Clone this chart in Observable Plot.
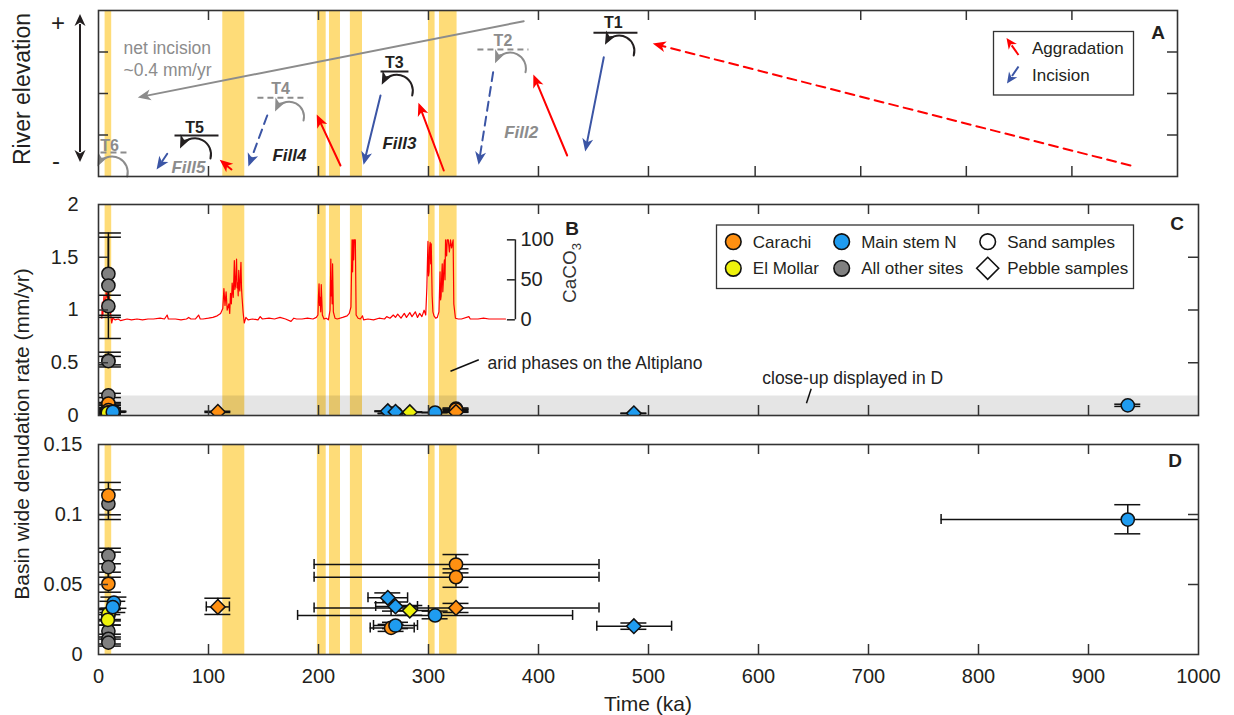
<!DOCTYPE html>
<html><head><meta charset="utf-8">
<script src="https://cdn.jsdelivr.net/npm/d3@7"></script>
<script src="https://cdn.jsdelivr.net/npm/@observablehq/plot@0.6"></script>
<style>
body{margin:0;background:#fff;}
#chart{position:relative;width:1234px;height:715px;overflow:hidden;}
</style></head><body><div id="chart"></div>
<script>
// ---------------- DATA ----------------
// arid phases on the Altiplano (ka)
const aridPhases = [[6,12],[113,133],[199,207],[210,220],[229,240],[300,306],[310,326]];

// Panel A schematic (x in ka, y in relative river-elevation units 0-4)
const terraces = [
  {label:"T6", tx:10,    ty:0.75,  x1:1.8,   x2:26.4,  y:0.578, tone:"grey"},
  {label:"T5", tx:87.3,  ty:1.16,  x1:69.1,  x2:109.1, y:0.988, tone:"black"},
  {label:"T4", tx:165.5, ty:2.12,  x1:144.5, x2:190,   y:1.896, tone:"grey"},
  {label:"T3", tx:269,   ty:2.735, x1:256.4, x2:281.8, y:2.53,  tone:"black"},
  {label:"T2", tx:367.7, ty:3.277, x1:344.5, x2:390.9, y:3.06,  tone:"grey"},
  {label:"T1", tx:468,   ty:3.71,  x1:450,   x2:490,   y:3.463, tone:"black"}
];
const abandonment = [
  {x1:26.1,  y1:0.0,   x2:-0.6,  y2:0.265, tone:"grey"},
  {x1:101.8, y1:0.434, x2:74.5,  y2:0.699, tone:"black"},
  {x1:186.4, y1:1.349, x2:160.9, y2:1.59,  tone:"grey"},
  {x1:285.2, y1:1.952, x2:257.9, y2:2.234, tone:"black"},
  {x1:388.2, y1:2.513, x2:360.9, y2:2.754, tone:"grey"},
  {x1:486.6, y1:2.916, x2:460.9, y2:3.198, tone:"black"}
];
const incision = [
  {x1:62.5,  y1:0.547, x2:53.3,  y2:0.186, dashed:true},
  {x1:153.4, y1:1.47,  x2:136.6, y2:0.265, dashed:true},
  {x1:256.4, y1:1.952, x2:241.2, y2:0.306, dashed:false},
  {x1:358.8, y1:2.513, x2:345.7, y2:0.306, dashed:true},
  {x1:459.4, y1:2.875, x2:442.7, y2:0.627, dashed:false}
];
const aggradation = [
  {x1:120.9, y1:0.169, x2:110.9, y2:0.386, dashed:false},
  {x1:220,   y1:0.265, x2:198.8, y2:1.47,  dashed:false},
  {x1:313.9, y1:0.145, x2:291.2, y2:1.752, dashed:false},
  {x1:426.1, y1:0.506, x2:395.7, y2:2.434, dashed:false},
  {x1:938.2, y1:0.265, x2:504.8, y2:3.198, dashed:true}
];
const fills = [
  {label:"Fill5", x:81.8,  y:0.217, tone:"grey"},
  {label:"Fill4", x:173.6, y:0.506, tone:"black"},
  {label:"Fill3", x:273.6, y:0.795, tone:"black"},
  {label:"Fill2", x:384.3, y:1.067, tone:"grey"}
];
const netIncision = [{x1:386.6, y1:3.742, x2:36.6, y2:1.91, dashed:false}];
const netIncisionText = [{text:"net incision", x:22.7, y:3.084}, {text:"~0.4 mm/yr", x:22.7, y:2.554}];

// CaCO3 record [age ka, CaCO3 %]
const caco3 = [[3,2],[3.5,22],[4,6],[5,30],[6,12],[7,34],[8,28],[9,36],[10,24],[11,8],[12,-4],[13,2],[15,0],[18,1],[20,-1],[26,1],[30,0],[35,1],[40,0],[45,1],[50,1],[56,2],[60,1],[62.4,6],[63.5,1],[70,1],[75,0],[80,1],[82,3],[84,1],[88,1],[91,6],[92.5,1],[95,1],[100,2],[104,3],[107.9,5],[111,8],[113,14],[114,39],[115,18],[116,35],[117,12],[118.5,20],[119.3,8],[120,33],[120.8,20],[121.5,46],[122.5,28],[123,50],[123.5,74],[124,38],[124.5,42],[125,58],[125.5,76],[126,40],[126.5,46],[127,30],[127.5,62],[128,40],[128.5,36],[129,55],[129.5,72],[130,40],[130.5,28],[131.5,9],[132.5,-4],[134,3],[136,0],[140,1],[145,0],[147,4],[149,1],[155,2],[160,1],[165,3],[170,1],[175,-2],[177.6,2],[180,1],[185,1],[190,2],[195,1],[198,3],[199.5,6],[200,30],[200.5,45],[201,18],[201.5,28],[202,10],[202.5,44],[203.5,6],[205,1],[207,2],[209,0],[210.5,12],[211.2,76],[211.6,30],[212,48],[212.4,20],[212.8,70],[213.5,10],[215,2],[217,1],[222,3],[226,5],[228,8],[229.5,16],[230.5,100],[231,60],[231.5,100],[232,75],[232.5,100],[233.5,100],[234.2,6],[236,2],[238,1],[240,5],[241,0],[245,1],[250,0],[255,2],[260,1],[262,4],[265,2],[268,6],[270,3],[272,7],[275,2],[278,8],[280,3],[283,9],[285,4],[288,10],[290,3],[292,8],[294,4],[296,12],[297.5,6],[298.5,40],[299,70],[299.5,98],[300,55],[300.5,60],[301,90],[301.5,97],[302,70],[302.5,95],[303.3,30],[304,10],[305,5],[306.5,2],[308,3],[309.5,10],[310.5,60],[311,25],[311.5,30],[312,55],[312.5,70],[313,35],[313.5,48],[314,68],[314.5,75],[315,50],[315.5,100],[316.5,80],[317,100],[318,100],[319,85],[320,100],[321,90],[322.4,100],[323,20],[324.5,2],[327,1],[330,1],[336.7,4],[338,1],[345,1],[350,2],[355,1],[360,1],[370,1]];
const caco3Ticks = [0, 50, 100];

// Denudation rates: [age, rate, rateLow, rateHigh, ageLow, ageHigh, type]
const carachi = [
  [9, 0.1136, 0.0998, 0.1229, null, null, "sand"],
  [9, 0.0505, 0.0445, 0.0588, null, null, "sand"],
  [108.5, 0.034, 0.0286, 0.0402, 98, 119, "pebble"],
  [325, 0.0643, 0.0583, 0.0714, 196, 455, "sand"],
  [325, 0.0552, 0.048, 0.0612, 196, 455, "sand"],
  [325, 0.0333, 0.030, 0.0365, 196, 455, "pebble"],
  [266, 0.019, 0.0165, 0.0215, 247, 287, "sand"]
];
const elMollar = [
  [9, 0.029, 0.025, 0.033, null, null, "sand"],
  [8.5, 0.0248, 0.021, 0.0285, null, null, "sand"],
  [283, 0.0314, 0.028, 0.035, 266, 300, "pebble"]
];
const mainStemN = [
  [14, 0.037, 0.033, 0.041, null, null, "sand"],
  [13, 0.0338, 0.030, 0.038, null, null, "sand"],
  [263, 0.0405, 0.037, 0.044, 245, 281, "pebble"],
  [270, 0.0343, 0.031, 0.0375, 252, 290, "pebble"],
  [306, 0.0279, 0.0255, 0.031, 181, 431, "sand"],
  [270, 0.0207, 0.0185, 0.023, 250, 290, "sand"],
  [486.7, 0.0202, 0.018, 0.0225, 453, 521, "pebble"],
  [935.7, 0.0964, 0.0862, 0.107, 766, 1060, "sand"]
];
const otherSites = [
  [9, 1.343, 0.95, 1.73, null, null, "sand"],
  [9, 1.232, 0.73, 1.69, null, null, "sand"],
  [9, 1.036, 0.93, 1.14, null, null, "sand"],
  [9, 0.52, 0.46, 0.60, null, null, "sand"],
  [9, 0.515, 0.48, 0.56, null, null, "sand"],
  [9, 0.19, 0.17, 0.21, null, null, "sand"],
  [9, 0.1076, 0.0964, 0.1176, null, null, "sand"],
  [9, 0.0707, 0.0648, 0.0759, null, null, "sand"],
  [9, 0.0624, 0.0552, 0.0731, null, null, "sand"],
  [9, 0.028, 0.024, 0.032, null, null, "sand"],
  [9, 0.0167, 0.0125, 0.021, null, null, "sand"],
  [9, 0.0112, 0.0075, 0.0145, null, null, "sand"],
  [9, 0.0085, 0.006, 0.011, null, null, "sand"]
];
const closeUpTop = 0.185;

// tick values
const aTicksX = [100,200,300,400,500,597,693,789,885];
const aTicksY = [1,2,3];
const cTicksX = [100,200,300,400,500,600,700,800,900];
const cTicksY = [0,0.5,1,1.5,2];
const dTicksX = [0,100,200,300,400,500,600,700,800,900,1000];
const dTicksY = [0,0.05,0.1,0.15];

// ---------------- STYLE / LAYOUT ----------------
const FONT = '"Liberation Sans", Arial, Helvetica, sans-serif';
const INK = "#231f20", GREY = "#8c8c8c", RED = "#ff0000", BLUE = "#3b55a5", BAND = "#fedc78", FRAME = "#333";
const siteColor = {"Carachi":"#ff9012","El Mollar":"#eef20c","Main stem N":"#1f9cf0","All other sites":"#808080"};
const W = 1234, LEFT = 98;
const PA = {top:0,   height:190, mt:10, mb:14, mr:57, xmax:981,  ymax:4};
const PC = {top:190, height:240, mt:14, mb:15, mr:36, xmax:1000, ymax:2};
const PD = {top:430, height:285, mt:14, mb:61, mr:36, xmax:1000, ymax:0.15};
for (const p of [PA,PC,PD]) {
  p.kx = (W - LEFT - p.mr) / p.xmax;
  p.ky = (p.height - p.mt - p.mb) / p.ymax;
}
const chart = document.getElementById("chart");

const rows = [];
for (const [site, arr] of [["Carachi",carachi],["El Mollar",elMollar],["Main stem N",mainStemN],["All other sites",otherSites]])
  for (const [x,y,ylo,yhi,xlo,xhi,type] of arr) rows.push({site,x,y,ylo,yhi,xlo,xhi,type});
const order = {"All other sites":0,"Carachi":1,"El Mollar":2,"Main stem N":3};
rows.sort((a,b)=>order[a.site]-order[b.site]);

function frameTicks(p, xt, yt, len=10) {
  const o = {stroke: FRAME, strokeWidth: 1.5};
  return [
    Plot.ruleX(xt, {x: d=>d, y1: 0, y2: len/p.ky, ...o}),
    Plot.ruleX(xt, {x: d=>d, y1: p.ymax - len/p.ky, y2: p.ymax, ...o}),
    Plot.ruleY(yt.filter(v=>v>0 && v<p.ymax), {y: d=>d, x1: 0, x2: len/p.kx, ...o}),
    Plot.ruleY(yt.filter(v=>v>0 && v<p.ymax), {y: d=>d, x1: p.xmax - len/p.kx, x2: p.xmax, ...o})
  ];
}
function bands(p) {
  return Plot.rect(aridPhases, {x1: d=>d[0], x2: d=>d[1], y1: 0, y2: p.ymax, fill: BAND});
}
function panel(p, marks) {
  const svg = Plot.plot({
    width: W, height: p.height,
    marginLeft: LEFT, marginRight: p.mr, marginTop: p.mt, marginBottom: p.mb,
    x: {domain: [0, p.xmax], axis: null},
    y: {domain: [0, p.ymax], axis: null},
    style: {fontFamily: FONT, fontSize: "20px", color: INK, background: "transparent", overflow: "visible"},
    marks
  });
  svg.style.position = "absolute";
  svg.style.left = "0px";
  svg.style.top = p.top + "px";
  chart.appendChild(svg);
}
// filled, notched arrow head pointing along +x with its tip at the origin
const headSymbol = {draw(ctx) { ctx.moveTo(1,0); ctx.lineTo(-12,-5.5); ctx.lineTo(-8.5,0); ctx.lineTo(-12,5.5); ctx.closePath(); }};
const screenAngle = (p, d) => Math.atan2(-(d.y2-d.y1)*p.ky, (d.x2-d.x1)*p.kx) * 180 / Math.PI;
function straightArrows(p, data, color) {
  return [
    Plot.arrow(data.filter(d=>d.dashed), {x1:"x1", y1:"y1", x2:"x2", y2:"y2", stroke: color, strokeWidth: 2, headLength: 0, insetEnd: 7, strokeDasharray: "9,6"}),
    Plot.arrow(data.filter(d=>!d.dashed), {x1:"x1", y1:"y1", x2:"x2", y2:"y2", stroke: color, strokeWidth: 2, headLength: 0, insetEnd: 7}),
    Plot.dot(data, {x:"x2", y:"y2", symbol: headSymbol, r: 5, fill: color, stroke: "none", rotate: d=>screenAngle(p,d)})
  ];
}
const BEND = -85;
function curvedArrows(p, data) {
  return [
    Plot.arrow(data, {x1:"x1", y1:"y1", x2:"x2", y2:"y2", bend: BEND, stroke: d=>toneColor(d.tone), strokeWidth: 2, headLength: 0, insetEnd: 4}),
    Plot.dot(data, {x:"x2", y:"y2", symbol: headSymbol, r: 5, fill: d=>toneColor(d.tone), stroke: "none", rotate: d=>screenAngle(p,d) + BEND})
  ];
}
const toneColor = t => t === "grey" ? GREY : INK;

// ---------------- PANEL A ----------------
panel(PA, [
  bands(PA),
  ...straightArrows(PA, netIncision, GREY),
  Plot.text(netIncisionText, {x:"x", y:"y", text:"text", textAnchor:"start", fill: GREY, fontSize: 17.5}),
  Plot.link(terraces.filter(d=>d.tone==="black"), {x1:"x1", x2:"x2", y1:"y", y2:"y", stroke: INK, strokeWidth: 2}),
  Plot.link(terraces.filter(d=>d.tone==="grey"), {x1:"x1", x2:"x2", y1:"y", y2:"y", stroke: GREY, strokeWidth: 2, strokeDasharray: "6,4"}),
  Plot.text(terraces, {x:"tx", y:"ty", text:"label", fill: d=>toneColor(d.tone), fontSize: 16, fontWeight: "bold"}),
  ...curvedArrows(PA, abandonment),
  ...straightArrows(PA, incision, BLUE),
  ...straightArrows(PA, aggradation, RED),
  Plot.text(fills, {x:"x", y:"y", text:"label", fill: d=>toneColor(d.tone), fontSize: 17, fontWeight: "bold", fontStyle: "italic"}),
  ...frameTicks(PA, aTicksX, aTicksY),
  Plot.frame({stroke: FRAME, strokeWidth: 1.6})
]);

// ---------------- PANEL C ----------------
const caAxisAt = 379;                 // ka position of the CaCO3 inset axis
const toC = v => 0.907 + v * 0.00758; // CaCO3 % -> panel C units
const capHalf = 13, hTick = 5;
const notes = [{x1:320, y1:0.42, x2:345.7, y2:0.528, text:"arid phases on the Altiplano", tx:353.6, ty:0.493},
               {x1:647.9, y1:0.253, x2:643.6, y2:0.117, text:"close-up displayed in D", tx:603.4, ty:0.351}];
function errorMarks(p, horizontal) {
  const o = {stroke: "#111", strokeWidth: 1.5, clip: true};
  const m = [
    Plot.ruleX(rows, {x:"x", y1:"ylo", y2:"yhi", ...o}),
    Plot.ruleY(rows, {y:"yhi", x1: d=>d.x - capHalf/p.kx, x2: d=>d.x + capHalf/p.kx, ...o}),
    Plot.ruleY(rows, {y:"ylo", x1: d=>d.x - capHalf/p.kx, x2: d=>d.x + capHalf/p.kx, ...o})
  ];
  if (horizontal) {
    const h = rows.filter(d=>d.xlo != null);
    m.push(Plot.ruleY(h, {y:"y", x1:"xlo", x2:"xhi", ...o}));
    m.push(Plot.ruleX(h, {x:"xlo", y1: d=>d.y - hTick/p.ky, y2: d=>d.y + hTick/p.ky, ...o}));
    m.push(Plot.ruleX(h, {x:"xhi", y1: d=>d.y - hTick/p.ky, y2: d=>d.y + hTick/p.ky, ...o}));
  }
  return m;
}
function dotMarks() {
  const o = {x:"x", y:"y", r: 6.6, fill: d=>siteColor[d.site], stroke: "#111", strokeWidth: 1.5, clip: true};
  return [
    Plot.dot(rows.filter(d=>d.type==="sand"), {...o, symbol: "circle"}),
    Plot.dot(rows.filter(d=>d.type==="pebble"), {...o, symbol: "diamond2"})
  ];
}
panel(PC, [
  bands(PC),
  Plot.rect([closeUpTop], {x1: 0, x2: PC.xmax, y1: 0, y2: d=>d, fill: "#000", fillOpacity: 0.1}),
  Plot.line(caco3, {x: d=>d[0], y: d=>toC(d[1]), stroke: RED, strokeWidth: 1.2}),
  Plot.ruleX([caAxisAt], {x: d=>d, y1: toC(0), y2: toC(100), stroke: "#222", strokeWidth: 1.5}),
  Plot.ruleY(caco3Ticks, {y: d=>toC(d), x1: caAxisAt - 8/PC.kx, x2: caAxisAt, stroke: "#222", strokeWidth: 1.5}),
  Plot.text(caco3Ticks, {x: caAxisAt, y: d=>toC(d), text: d=>String(d), dx: 5, textAnchor: "start", fontSize: 20, fill: "#222"}),
  Plot.link(notes, {x1:"x1", y1:"y1", x2:"x2", y2:"y2", stroke: "#111", strokeWidth: 1.5}),
  Plot.text(notes, {x:"tx", y:"ty", text:"text", textAnchor: "start", fontSize: 17.5, fill: "#222"}),
  ...errorMarks(PC, false),
  ...dotMarks(),
  ...frameTicks(PC, cTicksX, cTicksY),
  Plot.axisY(cTicksY, {tickSize: 0, tickPadding: 20, tickFormat: d=>String(d), fontSize: 20, label: null}),
  Plot.frame({stroke: FRAME, strokeWidth: 1.6})
]);

// ---------------- PANEL D ----------------
panel(PD, [
  bands(PD),
  ...errorMarks(PD, true),
  ...dotMarks(),
  ...frameTicks(PD, dTicksX.filter(v=>v>0 && v<1000), dTicksY),
  Plot.axisY(dTicksY, {tickSize: 0, tickPadding: 16, tickFormat: d=>String(d), fontSize: 20, label: null}),
  Plot.axisX(dTicksX, {tickSize: 0, tickPadding: 14, tickFormat: d=>String(d), fontSize: 20, label: null}),
  Plot.frame({stroke: FRAME, strokeWidth: 1.6})
]);

// ---------------- OVERLAY: titles, legends, panel letters ----------------
const ov = d3.create("svg").attr("width", W).attr("height", 715)
  .attr("style", "position:absolute;left:0;top:0;overflow:visible;pointer-events:none")
  .attr("font-family", FONT).attr("fill", INK);
ov.append("text").attr("transform","translate(30,89) rotate(-90)").attr("text-anchor","middle").attr("font-size",23).text("River elevation");
ov.append("text").attr("x",58).attr("y",31).attr("text-anchor","middle").attr("font-size",24).text("+");
ov.append("text").attr("x",56).attr("y",169).attr("text-anchor","middle").attr("font-size",24).text("-");
function drawArrow(g, x1, y1, x2, y2, color, w=2, hl=11, hw=5) {
  const a = Math.atan2(y2-y1, x2-x1), c = Math.cos(a), s = Math.sin(a);
  const bx = x2 - hl*c, by = y2 - hl*s;
  g.append("line").attr("x1",x1).attr("y1",y1).attr("x2",bx + 2*c).attr("y2",by + 2*s).attr("stroke",color).attr("stroke-width",w);
  g.append("path").attr("d",`M${x2},${y2}L${bx - hw*s},${by + hw*c}L${x2 - 0.7*hl*c},${y2 - 0.7*hl*s}L${bx + hw*s},${by - hw*c}Z`).attr("fill",color);
}
drawArrow(ov, 80, 88, 80, 14, INK, 2, 12, 5.5);
drawArrow(ov, 80, 88, 80, 162, INK, 2, 12, 5.5);
ov.append("text").attr("transform","translate(28.5,434) rotate(-90)").attr("text-anchor","middle").attr("font-size",21).text("Basin wide denudation rate (mm/yr)");
ov.append("text").attr("x",648).attr("y",711).attr("text-anchor","middle").attr("font-size",21).text("Time (ka)");
const caLab = ov.append("text").attr("transform","translate(576,273) rotate(-90)").attr("text-anchor","middle").attr("font-size",19).attr("fill","#333");
caLab.append("tspan").text("CaCO");
caLab.append("tspan").attr("dy",5).attr("font-size",13).text("3");
for (const [t,x,y] of [["A",1158,38.5],["B",572,235],["C",1177,230],["D",1175,467]])
  ov.append("text").attr("x",x).attr("y",y).attr("text-anchor","middle").attr("font-size",19).attr("font-weight","bold").text(t);
// legend A
ov.append("rect").attr("x",993.5).attr("y",31.5).attr("width",140).attr("height",63.5).attr("fill","#fff").attr("stroke",FRAME).attr("stroke-width",1.3);
drawArrow(ov, 1018.5, 55, 1006.5, 38, RED, 2, 11, 5);
drawArrow(ov, 1018.5, 66.5, 1007, 83.5, BLUE, 2, 11, 5);
ov.append("text").attr("x",1032).attr("y",54).attr("font-size",17).text("Aggradation");
ov.append("text").attr("x",1032).attr("y",81).attr("font-size",17).text("Incision");
// legend C
ov.append("rect").attr("x",716.5).attr("y",225).attr("width",417).attr("height",63.5).attr("fill","#fff").attr("stroke",FRAME).attr("stroke-width",1.3);
const legItems = [
  {label:"Carachi", x:733.3, y:241.7, fill:siteColor["Carachi"], sym:"circle"},
  {label:"El Mollar", x:733.3, y:268.3, fill:siteColor["El Mollar"], sym:"circle"},
  {label:"Main stem N", x:841.7, y:241.7, fill:siteColor["Main stem N"], sym:"circle"},
  {label:"All other sites", x:841.7, y:268.3, fill:siteColor["All other sites"], sym:"circle"},
  {label:"Sand samples", x:987.7, y:241.7, fill:"#fff", sym:"circle"},
  {label:"Pebble samples", x:987.7, y:268.3, fill:"#fff", sym:"diamond"}
];
for (const it of legItems) {
  if (it.sym === "circle") ov.append("circle").attr("cx",it.x).attr("cy",it.y).attr("r",7.8).attr("fill",it.fill).attr("stroke","#111").attr("stroke-width",1.6);
  else ov.append("path").attr("d",`M${it.x},${it.y-11}L${it.x+11},${it.y}L${it.x},${it.y+11}L${it.x-11},${it.y}Z`).attr("fill",it.fill).attr("stroke","#111").attr("stroke-width",1.6);
  ov.append("text").attr("x",it.x+19.5).attr("y",it.y+6).attr("font-size",17).text(it.label);
}
chart.appendChild(ov.node());
</script></body></html>
